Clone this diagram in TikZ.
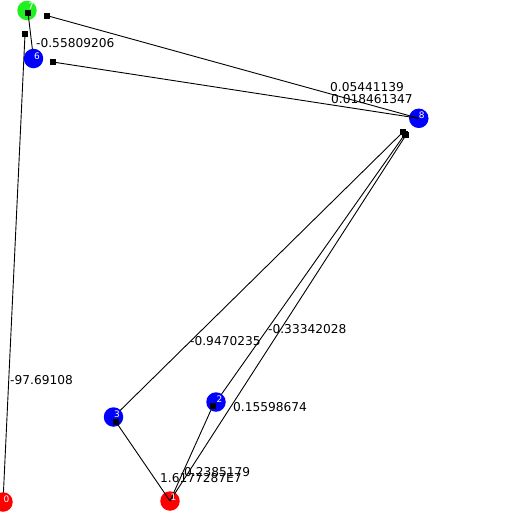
\documentclass[tikz,border=0pt]{standalone}
\usepackage{fontspec}
\setmainfont{DejaVu Sans}
\pgfdeclarelayer{base}
\pgfdeclarelayer{front}
\pgfdeclarelayer{top}
\pgfsetlayers{base,main,front,top}
\definecolor{vblue}{RGB}{0,0,255}
\definecolor{vred}{RGB}{255,0,0}
\definecolor{vgreen}{RGB}{32,240,32}
\begin{document}
\begin{tikzpicture}[x=1pt,y=-1pt,
  vertex/.style={circle,minimum size=19.5pt,inner sep=0pt,draw=none},
  tip/.style={rectangle,fill=black,minimum size=6pt,inner sep=0pt},
  weight/.style={anchor=west,inner sep=0pt,font=\fontsize{12.2}{14}\selectfont},
  tag/.style={text=white,inner sep=0pt,font=\fontsize{9}{10}\selectfont},
  link/.style={draw=black,line width=0.9pt}]
\useasboundingbox (0,0) rectangle (512,512);

% vertices drawn beneath their incoming/outgoing lines
\begin{pgfonlayer}{base}
  \fill[white] (0,0) rectangle (512,512);
  \node[vertex,fill=vred]   (n1) at (170,501)     {};
  \node[vertex,fill=vgreen] (n7) at (27,10.5)     {};
  \node[vertex,fill=vblue]  (n8) at (418.8,118.3) {};
\end{pgfonlayer}

% vertices drawn above the lines
\begin{pgfonlayer}{front}
  \node[vertex,fill=vred]  (n0) at (3,502)       {};
  \node[vertex,fill=vblue] (n2) at (216,402)     {};
  \node[vertex,fill=vblue] (n3) at (113.5,417)   {};
  \node[vertex,fill=vblue] (n6) at (33.5,58.5)   {};
\end{pgfonlayer}

% end points of the directed edges
\coordinate (e07) at (25,34.3);
\coordinate (e67) at (28,12.7);
\coordinate (e87) at (47.3,15.7);
\coordinate (e86) at (52.7,62);
\coordinate (e38) at (403,132);
\coordinate (e28) at (405,134);
\coordinate (e18) at (406,135);
\coordinate (e12) at (213,405.5);
\coordinate (e13) at (116,422);

% edges
\draw[link] (n0.center) -- (e07);
\draw[link] (n6.center) -- (e67);
\draw[link] (n8.center) -- (e87);
\draw[link] (n8.center) -- (e86);
\draw[link] (n3.center) -- (e38);
\draw[link] (n2.center) -- (e28);
\draw[link] (n1.center) -- (e18);
\draw[link] (n1.center) -- (e12);
\draw[link] (n1.center) -- (e13);

\begin{pgfonlayer}{top}
  % edge heads
  \foreach \e in {e07,e67,e87,e86,e38,e28,e18,e12,e13}
    \node[tip] at (\e) {};
  % vertex ids
  \node[tag] (t0) at ([shift={(3.5,-3)}]n0.center) {0};
  \node[tag] (t1) at ([shift={(3.5,-3.5)}]n1.center) {1};
  \node[tag] (t2) at ([shift={(3.5,-3)}]n2.center) {2};
  \node[tag] (t3) at ([shift={(3.5,-3)}]n3.center) {3};
  \node[tag] (t6) at ([shift={(3.5,-2.5)}]n6.center) {6};
  \node[tag] (t7) at ([shift={(4,-4)}]n7.center) {7};
  \node[tag] (t8) at ([shift={(3,-3)}]n8.center) {8};
\end{pgfonlayer}

% edge weights
\node[weight] (w07) at (10,380)  {-97.69108};
\node[weight] (w67) at (36,43)   {-0.55809206};
\node[weight] (w87) at (330,87)  {0.05441139};
\node[weight] (w86) at (331,99)  {0.018461347};
\node[weight] (w38) at (190,341) {-0.9470235};
\node[weight] (w28) at (268,329) {-0.33342028};
\node[weight] (w18) at (233,407) {0.15598674};
\node[weight] (w13) at (160,478) {1.6177287E7};
\node[weight] (w12) at (184,472) {0.2385179};
\end{tikzpicture}
\end{document}
